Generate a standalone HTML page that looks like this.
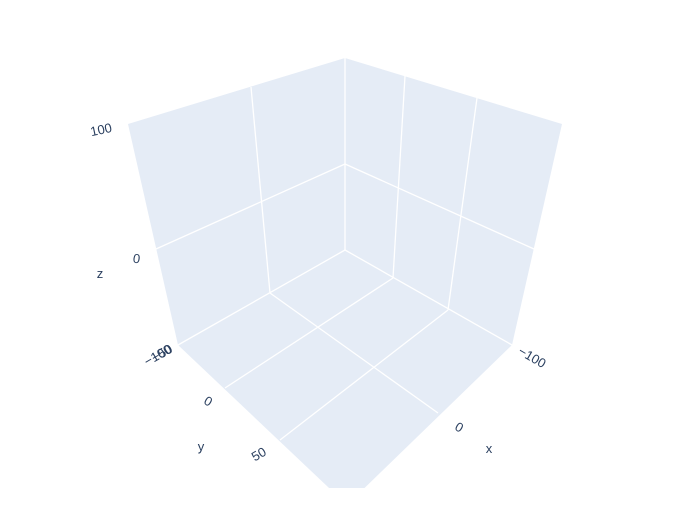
<!DOCTYPE html>
<html><head><meta charset="utf-8"><style>
body{margin:0;background:#fff;}
svg text{font-family:"Liberation Sans",sans-serif;font-size:13px;fill:#2a3f5f;}
</style></head><body>
<svg width="700" height="500">
<defs><clipPath id="clip"><rect x="0" y="0" width="700" height="488"/></clipPath></defs>
<g id="scene" clip-path="url(#clip)"></g>
<g id="labels"></g>
</svg>
<script>
const zTickLabels=["100","0"];
const yTickLabels=["−100","−50","0","50"];
const xTickLabels=["−100","0"];
const ns="http://www.w3.org/2000/svg";
const g=document.getElementById('scene');
const gl=document.getElementById('labels');
function mk(t,a,parent){const e=document.createElementNS(ns,t);for(const k in a)e.setAttribute(k,a[k]);(parent||g).appendChild(e);return e;}
const T=[345,58],L=[128,124],R=[562,124],C=[345,250],LB=[178,345],RB=[512,345],F=[347,505];
const P=p=>p.map(q=>q.join(',')).join(' ');
let w;
w=mk('polygon',{points:P([L,T,C,LB]),fill:'#e5ecf6'});


w=mk('polygon',{points:P([T,R,RB,C]),fill:'#e5ecf6'});


w=mk('polygon',{points:P([C,LB,F,RB]),fill:'#e5ecf6'});


const lines=[[[251,87],[270,293]],[[405,76],[393,278]],[[477,98],[448,310]],[[156,249],[345,164]],[[345,164],[534,249]],[[345,58],[345,250]],[[345,250],[178,345]],[[345,250],[512,345]],
[[270,293],[438,413]],[[393,278],[225,388]],[[448,310],[280,440]]];
lines.forEach(l=>{const e=mk('line',{x1:l[0][0],y1:l[0][1],x2:l[1][0],y2:l[1][1],stroke:'#fff','stroke-width':1.3});

});
function txt(s,x,y,rot,name){const e=mk('text',{x:x,y:y,'text-anchor':'middle',transform:`rotate(${rot} ${x} ${y})`},gl);e.textContent=s;

}
txt(zTickLabels[0],102,134,-12,'z-tick-100');
txt(zTickLabels[1],136,263,8,'z-tick-0');
txt('z',100,278,0,'z-axis-title');
txt(yTickLabels[0],160,359,-30,'y-tick-neg100');
txt(yTickLabels[1],164,357,-30,'y-tick-neg50');
txt(yTickLabels[2],206,405,30,'y-tick-0');
txt(yTickLabels[3],261,458,-30,'y-tick-50');
txt('y',201,451,0,'y-axis-title');
txt(xTickLabels[0],530,361,30,'x-tick-neg100');
txt(xTickLabels[1],457,431,30,'x-tick-0');
txt('x',489,453,0,'x-axis-title');
</script>
</body></html>
